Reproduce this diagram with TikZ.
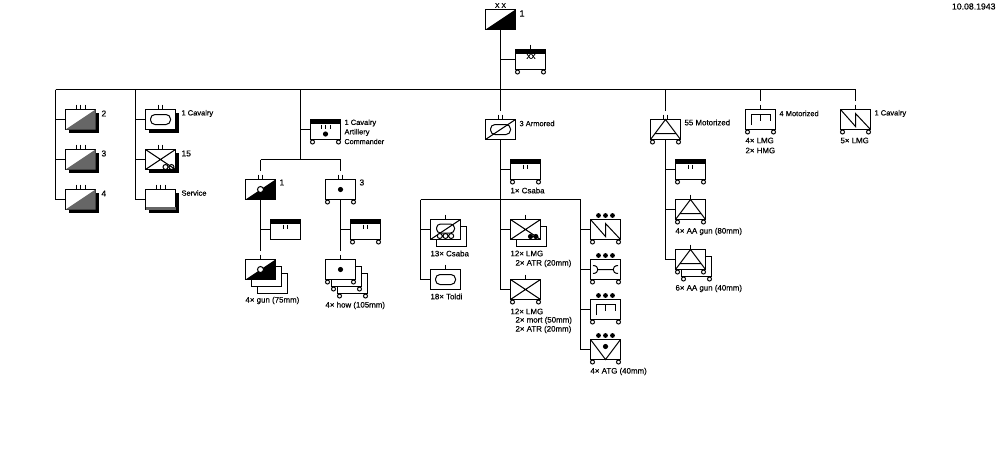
\documentclass[tikz,border=0pt]{standalone}
\usepackage{fontspec}
\setmainfont{Liberation Sans}
\newfontfamily\lf[FakeBold=0.25]{Liberation Sans}
\tikzset{
  unit/.style={draw=black,fill=white,line width=1pt,minimum width=30pt,minimum height=20pt,inner sep=0pt,outer sep=0pt},
  lbl/.style={anchor=west,inner sep=0pt,outer sep=0pt,font=\lf\fontsize{7.5}{9}\selectfont,text=black},
  lblw/.style={lbl,font=\lf\fontsize{7.9}{9}\selectfont},
  lblb/.style={lbl,font=\lf\fontsize{8.5}{9}\selectfont},
  lbln/.style={lbl,font=\lf\fontsize{7.2}{9}\selectfont},
  lbld/.style={lbl,font=\lf\fontsize{8.7}{9}\selectfont},
  lblx/.style={lbl,font=\lf\fontsize{6.8}{7}\selectfont},
  conn/.style={draw=black,line width=1pt},
  sym/.style={draw=black,line width=1pt},
  thin sym/.style={draw=black,line width=1pt},
  dither/.style={fill=black!60}
}
\newcommand\ubox[3]{\node[unit] (#1) at ({#2+15},{#3+10}) {};}
\newcommand\shadowed[3]{\fill[black] ({#2+3},{#3+3}) rectangle ({#2+33.5},{#3+23.5});\ubox{#1}{#2}{#3}}
\newcommand\inhere[2]{\begin{scope}[shift={(#1.center)}]#2\end{scope}}
\newcommand\ei[1]{\inhere{#1}{\draw[sym] (0,-15)--(0,-11);}}
\newcommand\eii[1]{\inhere{#1}{\draw[sym] (-2,-15)--(-2,-11) (2,-15)--(2,-11);}}
\newcommand\eiii[1]{\inhere{#1}{\draw[sym] (-4.5,-15)--(-4.5,-11) (0,-15)--(0,-11) (4.5,-15)--(4.5,-11);}}
\newcommand\wheels[1]{\inhere{#1}{\draw[sym,fill=white] (-13,12.5) circle (2) (13,12.5) circle (2);}}
\newcommand\band[1]{\inhere{#1}{\fill[black] (-15,-10) rectangle (15,-6);}}
\newcommand\hqii[1]{\band{#1}\inhere{#1}{\draw[sym] (-2,-5)--(-2,-1) (2,-5)--(2,-1);}}
\newcommand\hqiii[1]{\band{#1}\inhere{#1}{\draw[sym] (-4.5,-5)--(-4.5,-1) (0,-5)--(0,-1) (4.5,-5)--(4.5,-1);}}
\newcommand\grayhalf[1]{\inhere{#1}{\fill[dither] (-15,10)--(15,-10)--(15,10)--cycle;}}
\newcommand\blackhalf[1]{\inhere{#1}{\fill[black] (-15,10)--(15,-10)--(15,10)--cycle;}}
\newcommand\whitegun[1]{\inhere{#1}{\draw[sym,fill=white] (0,0) circle (3);}}
\newcommand\blackdot[1]{\inhere{#1}{\fill[black] (0,0) circle (2.6);}}
\newcommand\ovalsym[1]{\inhere{#1}{\draw[sym,rounded corners=4.5pt] (-10,-5) rectangle (10,5);}}
\newcommand\xsym[1]{\inhere{#1}{\draw[thin sym] (-15,-10)--(15,10) (-15,10)--(15,-10);}}
\newcommand\diag[1]{\inhere{#1}{\draw[thin sym] (-15,10)--(15,-10);}}
\newcommand\zigzag[1]{\inhere{#1}{\draw[thin sym] (-15,-10)--(0,7)--(0,-6)--(15,10);}}
\newcommand\wrench[1]{\inhere{#1}{\draw[sym] (-12.5,-4) .. controls (-6,-4) and (-6,4) .. (-12.5,4) (-8,0)--(7.5,0) (12.5,-4) .. controls (6,-4) and (6,4) .. (12.5,4);}}
\newcommand\mgsym[1]{\inhere{#1}{\draw[sym] (-9.5,5.5)--(-9.5,-5)--(9.5,-5)--(9.5,1.5) (0,-5)--(0,1.5);}}
\newcommand\trisym[1]{\inhere{#1}{\draw[thin sym] (-15,10)--(0,-10)--(15,10) (-10.5,4)--(10.5,4);}}
\newcommand\atsym[1]{\inhere{#1}{\draw[thin sym] (-15,-10)--(0,10)--(15,-10);\fill[black] (0,-3) circle (2.6);}}
\newcommand\threedots[1]{\inhere{#1}{\fill[black] (-7,-14) circle (2.4) (0,-14) circle (2.4) (7,-14) circle (2.4);}}
\begin{document}
\begin{tikzpicture}[x=1pt,y=-1pt]
\useasboundingbox (-0.5,-0.5) rectangle (999.5,449.5);
\fill[white] (-0.5,-0.5) rectangle (999.5,449.5);

% ---------- boxes
\ubox{div}{485}{9}\blackhalf{div}
\ubox{divhq}{515}{49}\band{divhq}\wheels{divhq}\ei{divhq}
\shadowed{a2}{65}{109}\grayhalf{a2}\eiii{a2}
\shadowed{a3}{65}{149}\grayhalf{a3}\eiii{a3}
\shadowed{a4}{65}{189}\grayhalf{a4}\eiii{a4}
\shadowed{c1}{145}{109}\ovalsym{c1}\eii{c1}
\shadowed{c15}{145}{149}\xsym{c15}\eii{c15}
\inhere{c15}{\draw[sym] (5,7.5) circle (2.5) (11,7.5) circle (2.5);}
\shadowed{sv}{145}{189}\eiii{sv}
\inhere{sv}{\fill[dither] (-15,7) rectangle (15,10);}
\ubox{arthq}{310}{119}\hqiii{arthq}\wheels{arthq}\inhere{arthq}{\fill[black] (0,4.5) circle (2.6);}
\ubox{g1}{245}{179}\blackhalf{g1}\whitegun{g1}\eii{g1}
\ubox{g3}{325}{179}\blackdot{g3}\wheels{g3}\eii{g3}
\ubox{g1hq}{270}{219}\hqii{g1hq}
\ubox{g3hq}{350}{219}\hqii{g3hq}\wheels{g3hq}
\ubox{g1s3}{257}{273}
\ubox{g1s2}{251}{266}
\ubox{g1s1}{245}{259}\blackhalf{g1s1}\whitegun{g1s1}\ei{g1s1}
\ubox{g3s3}{337}{273}\wheels{g3s3}
\ubox{g3s2}{331}{266}\wheels{g3s2}
\ubox{g3s1}{325}{259}\blackdot{g3s1}\wheels{g3s1}\ei{g3s1}
\ubox{arm}{485}{119}\ovalsym{arm}\diag{arm}\eii{arm}
\ubox{armhq}{510}{159}\hqii{armhq}\wheels{armhq}
\ubox{ta2}{436}{226}
\ubox{ta1}{430}{219}\ei{ta1}
\inhere{ta1}{\draw[sym,rounded corners=4pt] (-9,-5.5) rectangle (9,3.5);\draw[thin sym] (-15,10)--(15,-10);\draw[sym,fill=white] (-5.7,6.5) circle (2.5) (0,6.5) circle (2.5) (5.7,6.5) circle (2.5);}
\ubox{to}{430}{269}\ovalsym{to}\ei{to}
\ubox{in2}{516}{226}
\ubox{in1}{510}{219}\xsym{in1}\ei{in1}
\inhere{in1}{\fill[black] (5,7) circle (2.6) (10.3,7) circle (2.6);}
\ubox{mo}{510}{279}\xsym{mo}\wheels{mo}\ei{mo}
\ubox{r1}{590}{219}\zigzag{r1}\wheels{r1}\threedots{r1}
\ubox{r2}{590}{259}\wrench{r2}\wheels{r2}\threedots{r2}
\ubox{r3}{590}{299}\mgsym{r3}\wheels{r3}\threedots{r3}
\ubox{r4}{590}{339}\atsym{r4}\wheels{r4}\threedots{r4}
\ubox{m55}{650}{119}\trisym{m55}\wheels{m55}\eii{m55}
\ubox{mhq}{675}{159}\hqii{mhq}\wheels{mhq}
\ubox{aa8}{675}{199}\trisym{aa8}\wheels{aa8}\ei{aa8}
\ubox{aa4s}{681}{256}\wheels{aa4s}
\ubox{aa4}{675}{249}\trisym{aa4}\wheels{aa4}\ei{aa4}
\ubox{mg4}{745}{109}\mgsym{mg4}\wheels{mg4}\ei{mg4}
\ubox{cv1}{840}{109}\zigzag{cv1}\wheels{cv1}\ei{cv1}

% ---------- bus coordinates
\coordinate (busW) at (55,89);
\coordinate (busE) at (855,89);
\coordinate (bus135) at (135,89);
\coordinate (bus300) at (300,89);
\coordinate (bus500) at (500,89);
\coordinate (bus665) at (665,89);
\coordinate (bus760) at (760,89);
\coordinate (j300) at (300,159);
\coordinate (artL) at (260,159);
\coordinate (artR) at (340,159);
\coordinate (armL) at (420,199);
\coordinate (armM) at (500,199);
\coordinate (armR) at (580,199);

% ---------- connectors
\draw[conn] (busW)--(busE);
\draw[conn] (div.south)--(bus500);
\draw[conn] (div.south |- divhq.west)--(divhq.west);
\draw[conn] (busW) |- (a2.west);
\draw[conn] (busW) |- (a3.west);
\draw[conn] (busW) |- (a4.west);
\draw[conn] (bus135) |- (c1.west);
\draw[conn] (bus135) |- (c15.west);
\draw[conn] (bus135) |- (sv.west);
\draw[conn] (bus300)--(j300);
\draw[conn] (bus300) |- (arthq.west);
\draw[conn] (artL)--(artR);
\draw[conn] (artL)--([yshift=9pt]g1.north);
\draw[conn] (artR)--([yshift=9pt]g3.north);
\draw[conn] (g1.south)--([yshift=9pt]g1s1.north);
\draw[conn] (g3.south)--([yshift=9pt]g3s1.north);
\draw[conn] (g1.south) |- (g1hq.west);
\draw[conn] (g3.south) |- (g3hq.west);
\draw[conn] (bus500)--([yshift=9pt]arm.north);
\draw[conn] (arm.south)--(armM);
\draw[conn] (arm.south) |- (armhq.west);
\draw[conn] (armL)--(armR);
\draw[conn] (armL) |- (ta1.west);
\draw[conn] (armL) |- (to.west);
\draw[conn] (armM) |- (in1.west);
\draw[conn] (armM) |- (mo.west);
\draw[conn] (armR) |- (r1.west);
\draw[conn] (armR) |- (r2.west);
\draw[conn] (armR) |- (r3.west);
\draw[conn] (armR) |- (r4.west);
\draw[conn] (bus665)--([yshift=9pt]m55.north);
\draw[conn] (m55.south) |- (mhq.west);
\draw[conn] (m55.south) |- (aa8.west);
\draw[conn] (m55.south) |- (aa4.west);
\draw[conn] (bus760)--([yshift=9pt]mg4.north);
\draw[conn] (busE)--([yshift=9pt]cv1.north);

% ---------- labels
\node[lbld,anchor=east] (date) at (995,6) {10.08.1943};
\node[lblx,anchor=center] (xxa) at (500,5) {X X};
\node[lblx,anchor=center] (xxb) at (530.5,56) {XX};
\node[lbl,font=\lf\fontsize{9}{9}\selectfont] (l1) at (519,13) {1};
\node[lblb] (l2) at (101,113) {2};
\node[lblb] (l3) at (101,153) {3};
\node[lblb] (l4) at (101,193) {4};
\node[lbl] (l5) at (181,113) {1 Cavalry};
\node[lblb] (l6) at (181,153) {15};
\node[lbl] (l7) at (181,192.5) {Service};
\node[lbl] (l8) at (344,122.5) {1 Cavalry};
\node[lbl] (l9) at (344,132) {Artillery};
\node[lbln] (l10) at (344,141) {Commander};
\node[lblb] (l11) at (279,182) {1};
\node[lblb] (l12) at (359,182) {3};
\node[lblw] (l13) at (245,300) {4× gun (75mm)};
\node[lblw] (l14) at (325,305) {4× how (105mm)};
\node[lbl] (l15) at (519,123) {3 Armored};
\node[lblw] (l16) at (510,190) {1× Csaba};
\node[lblw] (l17) at (430,253) {13× Csaba};
\node[lblw] (l18) at (430,296) {18× Toldi};
\node[lblw] (l19) at (510,253) {12× LMG};
\node[lblw] (l20) at (515,263) {2× ATR (20mm)};
\node[lblw] (l21) at (510,311) {12× LMG};
\node[lblw] (l22) at (515,320) {2× mort (50mm)};
\node[lblw] (l23) at (515,329) {2× ATR (20mm)};
\node[lblw] (l24) at (590,371) {4× ATG (40mm)};
\node[lblw] (l25) at (684,122) {55 Motorized};
\node[lblw] (l26) at (675,231) {4× AA gun (80mm)};
\node[lblw] (l27) at (675,288) {6× AA gun (40mm)};
\node[lbl] (l28) at (779,113) {4 Motorized};
\node[lblw] (l29) at (745,140) {4× LMG};
\node[lblw] (l30) at (745,150) {2× HMG};
\node[lbl] (l31) at (874,113) {1 Cavalry};
\node[lblw] (l32) at (840,140) {5× LMG};
\end{tikzpicture}
\end{document}
